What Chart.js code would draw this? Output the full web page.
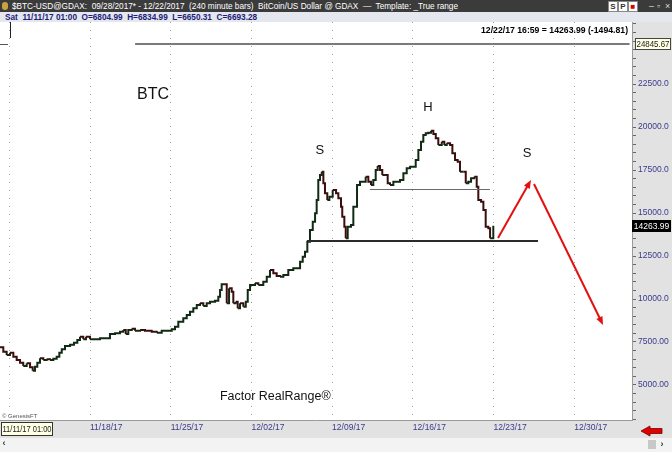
<!DOCTYPE html>
<html>
<head>
<meta charset="utf-8">
<script src="https://cdn.jsdelivr.net/npm/chart.js@4.4.1/dist/chart.umd.min.js"></script>
<style>
  html, body { margin: 0; padding: 0; background: #fff; }
  #wrap { position: relative; width: 672px; height: 452px; overflow: hidden; font-family: 'Liberation Sans', Arial, sans-serif; }
  #wrap canvas { position: absolute; left: 0; top: 0; }
  #title { position: absolute; left: 0; top: 0; width: 672px; height: 12px; background: #3b3b3b; }
  #info { position: absolute; left: 0; top: 12px; width: 672px; height: 10px; background: #e4e7ee; }
  .fit { position: absolute; display: inline-block; white-space: pre; transform-origin: 0 50%; }
  #tt { left: 12px; top: 0; color: #fff; font-size: 9px; line-height: 12px; }
  #it { left: 5px; top: 0; color: #1c1c78; font-size: 9px; line-height: 10px; font-weight: bold; }
  #last { left: 481px; top: 25px; color: #000; font-size: 9px; line-height: 11px; font-weight: bold; }
  .ico { position: absolute; left: 2px; top: 2px; width: 6px; height: 8px; background: #c9a43c; border-radius: 3px; }
  .btn { position: absolute; top: 1px; width: 8px; height: 9px; background: #fff; border: 1px solid #888; font-size: 8px; line-height: 9px; text-align: center; font-weight: bold; color: #333; }
  .win { position: absolute; top: 0; color: #ddd; font-size: 9px; line-height: 12px; }
</style>
</head>
<body>
<div id="wrap">
  <canvas id="chart" width="672" height="452"></canvas>
  <div id="title">
    <span class="ico"></span>
    <span id="tt" class="fit">$BTC-USD@GDAX:  09/28/2017* - 12/22/2017  (240 minute bars)  BitCoin/US Dollar @ GDAX  —  Template: _True range</span>
    <span class="btn" style="left:608px">S</span>
    <span class="btn" style="left:618px">P</span>
    <span class="btn" style="left:628px;color:#d00">■</span>
    <span class="win" style="left:649px">–</span>
    <span class="win" style="left:657px">▫</span>
    <span class="win" style="left:665px">×</span>
  </div>
  <div id="info"><span id="it" class="fit">Sat  11/11/17 01:00  O=6804.99  H=6834.99  L=6650.31  C=6693.28</span></div>
  <div id="last" class="fit">12/22/17 16:59 = 14263.99 (-1494.81)</div>
</div>
<script>
// ── DATA ─────────────────────────────────────────────────────
// days since 11/11/17 00:00, one point per ~8h of 240 minute bars
const DAYS = [
  -0.81,-0.52,-0.23,0.06,0.35,0.64,0.93,1.21,1.51,1.80,
  2.03,2.23,2.43,2.66,2.95,3.24,3.53,3.82,4.11,4.34,
  4.55,4.83,5.27,5.61,5.90,6.13,6.42,6.65,7.00,7.43,
  7.87,8.45,8.73,9.17,9.60,9.89,10.10,10.32,10.62,10.90,
  11.34,11.77,12.35,12.79,13.22,13.65,14.09,14.37,14.66,15.09,
  15.39,15.67,15.96,16.26,16.54,16.83,17.12,17.41,17.84,18.13,
  18.28,18.42,18.71,18.86,19.06,19.29,19.43,19.64,19.81,20.01,
  20.30,20.51,20.68,20.88,21.31,21.60,22.03,22.33,22.61,22.90,
  23.19,23.48,23.77,24.20,24.63,25.07,25.22,25.45,25.65,25.85,
  26.08,26.32,26.52,26.66,26.80,26.95,27.10,27.24,27.38,27.58,
  27.76,28.05,28.34,28.54,28.77,28.88,29.06,29.18,29.35,29.64,
  29.84,30.05,30.16,30.42,30.71,30.91,31.14,31.37,31.57,31.78,
  31.95,32.15,32.35,32.59,32.82,33.02,33.31,33.60,33.89,34.18,
  34.47,34.76,35.04,35.25,35.48,35.71,35.91,36.12,36.34,36.58,
  36.78,36.99,37.21,37.51,37.73,37.94,38.23,38.43,38.66,38.89,
  39.09,39.38,39.59,39.81,40.05,40.33,40.54,40.68,40.92,41.12,
  41.32,41.55,41.70,41.84,41.98
];
const CLOSE = [
  7192,6936,6744,6878,6645,6453,6296,6105,6261,6029,
  5831,6064,6296,6552,6453,6494,6453,6529,6645,6878,
  7075,7267,7343,7459,7616,7808,7657,7808,7657,7657,
  7715,7715,7965,8006,8099,8198,7965,8198,8273,8157,
  8198,8157,8099,8041,8157,8157,8238,8389,8680,8878,
  9070,9261,9459,9651,9750,9593,9750,9843,9901,10134,
  10523,10855,10855,9750,10622,10424,9750,9843,9459,9750,
  9552,9843,10523,10814,10913,10814,11006,11296,11686,11494,
  11337,11296,11395,11686,11785,11785,12168,12459,12750,13331,
  14012,14494,14983,15756,16919,17209,17401,16727,16145,15756,
  15948,16337,16145,15855,15366,14785,14203,13529,14203,14302,
  15366,15366,16628,16820,16820,17110,16820,16628,16919,17500,
  17733,17500,17209,17209,16727,16628,16820,16820,16919,17308,
  17599,17692,17692,18081,18663,19145,19535,19634,19669,19785,
  19593,19343,18953,19145,18953,19052,18953,18471,18081,17983,
  17401,17401,16727,16820,17017,17110,16529,15756,15657,15174,
  14203,14110,13529,13529,14264
];
const START_UTC   = Date.UTC(2017, 10, 11);
const WEEK_DAYS   = 7;
const PRICE_MINOR = 500;
const PRICE_MAJOR = 2500;
const LAST_PRICE  = 14263.99;
const TOP_PRICE   = 24845.67;
const CURSOR_LABEL = '11/11/17 01:00';

// drawn lines: [fromDay, toDay, price]
const TOP_LINE   = [10.91, 53.8, TOP_PRICE];
const NECK_LOW   = [25.82, 45.86, 13372];
const NECK_HIGH  = [31.28, 41.69, 16395];
// red arrows: [fromDay, fromPrice, toDay, toPrice]
const ARROW_UP   = [42.39, 13546, 45.25, 16919];
const ARROW_DOWN = [45.51, 16686, 51.5, 8488];
// chart notes: [text, day, price]
const NOTES = [
  ['BTC', 11.08, 21860],
  ['S', 26.94, 18663],
  ['H', 36.32, 21163],
  ['S', 44.9, 18488],
  ['Factor RealRange®', 18.27, 4302]
];

// ── HELPERS ──────────────────────────────────────────────────
const FONT = "'Liberation Sans', Arial, sans-serif";
const NAVY = '#3a3a8c';

function fmtDate(d) {
  const dt = new Date(START_UTC + d * 86400000);
  const p = n => String(n).padStart(2, '0');
  return p(dt.getUTCMonth() + 1) + '/' + p(dt.getUTCDate()) + '/' + String(dt.getUTCFullYear()).slice(2);
}

function fmtPrice(v) {
  return v >= 10000 ? v.toFixed(1) : v.toFixed(2);
}

function priceLabel(v) {
  const n = Math.round(v);
  return (n % PRICE_MAJOR === 0 && n < 24000) ? fmtPrice(n) : '';
}

function fit(id, w) {
  const el = document.getElementById(id);
  const cur = el.getBoundingClientRect().width;
  if (cur > 0) el.style.transform = 'scaleX(' + (w / cur).toFixed(3) + ')';
}

function boxLabel(ctx, text, x, y, w, h, bg, fg, border) {
  ctx.fillStyle = bg;
  ctx.fillRect(x, y, w, h);
  if (border) { ctx.strokeStyle = border; ctx.lineWidth = 1; ctx.strokeRect(x + 0.5, y + 0.5, w - 1, h - 1); }
  ctx.fillStyle = fg;
  ctx.font = '8.5px ' + FONT;
  ctx.textAlign = 'center';
  ctx.textBaseline = 'middle';
  ctx.fillText(text, x + w / 2, y + h / 2 + 0.5, w - 3);
}

function arrow(ctx, x0, y0, x1, y1) {
  const a = Math.atan2(y1 - y0, x1 - x0), L = 9;
  ctx.beginPath();
  ctx.moveTo(x0, y0);
  ctx.lineTo(x1 - Math.cos(a) * 5, y1 - Math.sin(a) * 5);
  ctx.stroke();
  ctx.beginPath();
  ctx.moveTo(x1, y1);
  ctx.lineTo(x1 - L * Math.cos(a - 0.38), y1 - L * Math.sin(a - 0.38));
  ctx.lineTo(x1 - L * Math.cos(a + 0.38), y1 - L * Math.sin(a + 0.38));
  ctx.closePath();
  ctx.fill();
}

// ── PANEL BACKGROUNDS ────────────────────────────────────────
const panelBg = {
  id: 'panelBg',
  beforeDraw(chart) {
    const { ctx, chartArea: a } = chart;
    ctx.save();
    ctx.fillStyle = '#ffffff';
    ctx.fillRect(a.left, a.top, a.right - a.left, a.bottom - a.top);
    ctx.fillStyle = '#e2e2e2';
    ctx.fillRect(a.right, a.top, chart.width - a.right, a.bottom - a.top + 18);
    ctx.fillRect(0, a.bottom, a.right, 18);
    ctx.fillStyle = '#f3f3f3';
    ctx.fillRect(0, a.bottom + 18, chart.width, chart.height - a.bottom - 18);
    ctx.restore();
  }
};

// ── DRAWINGS ON TOP ──────────────────────────────────────────
const drawings = {
  id: 'drawings',
  afterDatasetsDraw(chart) {
    const { ctx, chartArea: a, scales: { x, y } } = chart;
    ctx.save();

    // horizontal tool lines
    const hline = (l, color, w) => {
      const py = Math.round(y.getPixelForValue(l[2])) + (w % 2 ? 0.5 : 0);
      ctx.strokeStyle = color; ctx.lineWidth = w;
      ctx.beginPath();
      ctx.moveTo(x.getPixelForValue(l[0]), py);
      ctx.lineTo(x.getPixelForValue(l[1]), py);
      ctx.stroke();
    };
    hline(TOP_LINE, '#7a7a7a', 2);
    hline(NECK_LOW, '#2b2b2b', 2);
    hline(NECK_HIGH, '#6a6a6a', 1);

    // crosshair stubs
    const ty = Math.round(y.getPixelForValue(TOP_PRICE));
    ctx.strokeStyle = '#555'; ctx.lineWidth = 1;
    ctx.beginPath(); ctx.moveTo(0, ty + 0.5); ctx.lineTo(8, ty + 0.5); ctx.stroke();
    ctx.strokeStyle = '#222';
    ctx.beginPath(); ctx.moveTo(10.5, a.top); ctx.lineTo(10.5, a.top + 16); ctx.stroke();

    // red arrows
    ctx.strokeStyle = '#e41010'; ctx.fillStyle = '#e41010'; ctx.lineWidth = 2;
    [ARROW_UP, ARROW_DOWN].forEach(r => arrow(ctx,
      x.getPixelForValue(r[0]), y.getPixelForValue(r[1]),
      x.getPixelForValue(r[2]), y.getPixelForValue(r[3])));

    // notes
    ctx.fillStyle = '#111';
    ctx.textBaseline = 'middle';
    NOTES.forEach(([t, d, p]) => {
      const big = t === 'BTC' ? 16 : t.length > 2 ? 12.5 : 13;
      ctx.font = big + 'px ' + FONT;
      ctx.textAlign = t.length > 1 ? 'left' : 'center';
      ctx.fillText(t, x.getPixelForValue(d), y.getPixelForValue(p));
    });

    ctx.font = '6px ' + FONT;
    ctx.fillStyle = '#555';
    ctx.textAlign = 'left';
    ctx.fillText('© GenesisFT', 2, a.bottom - 4);

    // axis readouts
    const ly = y.getPixelForValue(LAST_PRICE);
    boxLabel(ctx, LAST_PRICE.toFixed(2), a.right, Math.round(ly) - 6, chart.width - a.right - 1, 12, '#000', '#fff');
    boxLabel(ctx, TOP_PRICE.toFixed(2), a.right + 3, ty - 6, chart.width - a.right - 4, 12, '#ffffe4', '#222', '#444');
    boxLabel(ctx, CURSOR_LABEL, 1, a.bottom + 2, 52, 14, '#ffffe4', '#222', '#333');

    // scroller bits
    const by = a.bottom + 11;
    ctx.fillStyle = '#e00000'; ctx.strokeStyle = '#700'; ctx.lineWidth = 0.8;
    ctx.beginPath();
    ctx.moveTo(641, by); ctx.lineTo(650, by - 5); ctx.lineTo(650, by - 2.5);
    ctx.lineTo(662, by - 2.5); ctx.lineTo(662, by + 2.5); ctx.lineTo(650, by + 2.5);
    ctx.lineTo(650, by + 5); ctx.closePath(); ctx.fill(); ctx.stroke();
    ctx.fillStyle = '#c8c8c8';
    ctx.fillRect(648, chart.height - 12, 8, 9);
    ctx.fillStyle = '#333';
    ctx.font = 'bold 9px ' + FONT;
    ctx.fillText('›', 662, chart.height - 7);
    ctx.fillText('‹', 4, chart.height - 8);
    ctx.restore();
  }
};

// ── CHART ────────────────────────────────────────────────────
const points = DAYS.map((d, i) => ({ x: d, y: CLOSE[i] }));

new Chart(document.getElementById('chart'), {
  type: 'line',
  data: {
    datasets: [{
      data: points,
      stepped: true,
      borderWidth: 2,
      borderColor: '#111',
      pointRadius: 0,
      segment: {
        borderColor: c => c.p1.parsed.y < c.p0.parsed.y ? '#3c0d0d' : '#112a14'
      }
    }]
  },
  options: {
    responsive: false,
    devicePixelRatio: 1,
    animation: false,
    layout: { padding: { top: 22, bottom: 14, left: 0, right: 0 } },
    plugins: { legend: { display: false }, tooltip: { enabled: false } },
    scales: {
      x: {
        type: 'linear', min: -0.807, max: 54.01,
        afterFit: s => { s.height = 18; },
        grid: { color: '#9c9c9c', drawTicks: false },
        border: { display: true, color: '#9a9a9a', dash: [1, 7] },
        ticks: {
          stepSize: WEEK_DAYS, includeBounds: false, autoSkip: false, maxRotation: 0,
          align: 'start', padding: 3, color: NAVY, font: { size: 8.5, family: FONT },
          callback: v => v === 0 ? '' : fmtDate(v)
        }
      },
      y: {
        position: 'right', min: 2965, max: 26105,
        afterFit: s => { s.width = 40; },
        afterBuildTicks: s => {
          const t = [];
          for (let v = Math.ceil(s.min / PRICE_MINOR) * PRICE_MINOR; v <= s.max; v += PRICE_MINOR) t.push({ value: v });
          s.ticks = t;
        },
        grid: { drawOnChartArea: false, tickLength: 4, color: '#666' },
        border: { display: true, color: '#9a9a9a' },
        ticks: {
          autoSkip: false, padding: 2,
          color: NAVY, font: { size: 8.5, family: FONT },
          callback: v => priceLabel(v)
        }
      }
    }
  },
  plugins: [panelBg, drawings]
});

fit('tt', 446);
fit('it', 252);
fit('last', 147);
</script>
</body>
</html>
